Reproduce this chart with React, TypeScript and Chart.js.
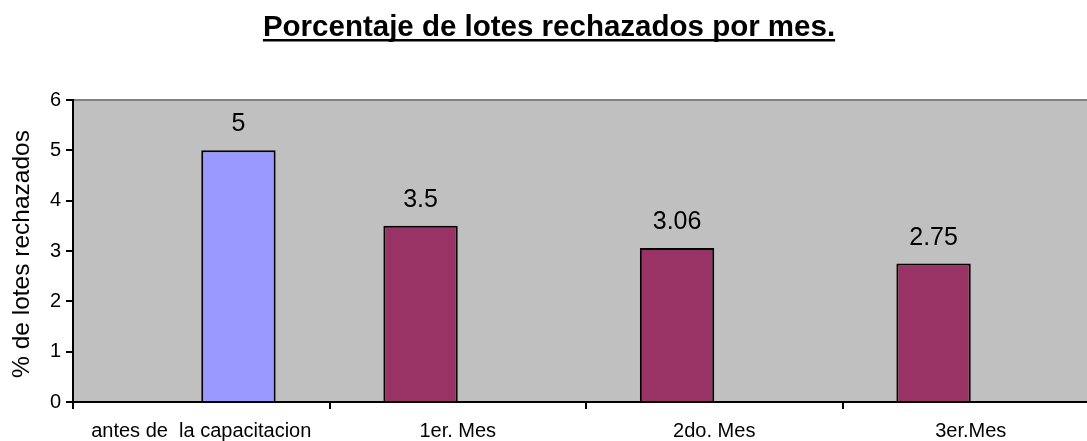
import React, { useEffect, useRef } from "react";
import { Chart, registerables } from "chart.js";

Chart.register(...registerables);

const TITLE = "Porcentaje de lotes rechazados por mes.";
const Y_TITLE = "% de lotes rechazados";
const categories = ["antes de  la capacitacion", "1er. Mes", "2do. Mes", "3er.Mes"];
const seriesMonths: (number | null)[] = [null, 3.5, 3.06, 2.75];
const seriesBefore: (number | null)[] = [5, null, null, null];
const yTicks = [0, 1, 2, 3, 4, 5, 6];

const FONT = "'Liberation Sans', Arial, sans-serif";

const decorPlugin = {
  id: "decor",
  beforeDraw(chart: any) {
    const { ctx, chartArea } = chart;
    ctx.save();
    ctx.fillStyle = "#C0C0C0";
    ctx.fillRect(chartArea.left, chartArea.top, chartArea.right - chartArea.left, chartArea.bottom - chartArea.top);
    ctx.strokeStyle = "#808080";
    ctx.lineWidth = 2;
    ctx.beginPath();
    ctx.moveTo(chartArea.left, chartArea.top);
    ctx.lineTo(chartArea.right, chartArea.top);
    ctx.lineTo(chartArea.right, chartArea.bottom);
    ctx.stroke();
    ctx.restore();
  },
  afterDraw(chart: any) {
    const { ctx, chartArea } = chart;
    ctx.save();
    // title
    ctx.font = `bold 29.5px ${FONT}`;
    ctx.fillStyle = "#000";
    ctx.textAlign = "center";
    ctx.textBaseline = "alphabetic";
    const cx = 549;
    ctx.fillText(TITLE, cx, 36);
    const w = ctx.measureText(TITLE).width;
    ctx.fillRect(cx - w / 2, 39, w, 2.5);
    // y title
    ctx.font = `24.5px ${FONT}`;
    ctx.translate(22, (chartArea.top + chartArea.bottom) / 2 + 3);
    ctx.rotate(-Math.PI / 2);
    ctx.textBaseline = "middle";
    ctx.fillText(Y_TITLE, 0, 0);
    ctx.restore();
    // data labels
    ctx.save();
    ctx.font = `25px ${FONT}`;
    ctx.fillStyle = "#000";
    ctx.textAlign = "center";
    ctx.textBaseline = "alphabetic";
    chart.data.datasets.forEach((ds: any, i: number) => {
      const meta = chart.getDatasetMeta(i);
      meta.data.forEach((bar: any, j: number) => {
        const v = ds.data[j];
        if (v === null || v === undefined) return;
        ctx.fillText(String(v), bar.x, bar.y - 19);
      });
    });
    ctx.restore();
  },
};

export default function App() {
  const ref = useRef<HTMLCanvasElement>(null);
  useEffect(() => {
    if (!ref.current) return;
    const chart = new Chart(ref.current, {
      type: "bar",
      data: {
        labels: categories,
        datasets: [
          {
            label: "Meses",
            data: seriesMonths,
            backgroundColor: "#993366",
            borderColor: "#000",
            borderWidth: 2,
            categoryPercentage: 0.58,
            barPercentage: 1,
          },
          {
            label: "Antes",
            data: seriesBefore,
            backgroundColor: "#9999FF",
            borderColor: "#000",
            borderWidth: 2,
            categoryPercentage: 0.58,
            barPercentage: 1,
          },
        ],
      },
      options: {
        responsive: false,
        animation: false,
        devicePixelRatio: 1,
        layout: { padding: { top: 100, right: 1, left: 0, bottom: 0 } },
        plugins: { legend: { display: false }, title: { display: false }, tooltip: { enabled: false } },
        scales: {
          x: {
            offset: true,
            grid: { offset: true, drawOnChartArea: false, color: "#000", lineWidth: 2, tickLength: 7 },
            border: { color: "#000", width: 2 },
            ticks: { color: "#000", font: { family: FONT, size: 20 }, padding: 10, maxRotation: 0 },
            afterFit: (s: any) => { s.height = 39; },
          },
          y: {
            min: 0,
            max: 6,
            afterBuildTicks: (s: any) => { s.ticks = yTicks.map((v) => ({ value: v })); },
            grid: { drawOnChartArea: false, color: "#000", lineWidth: 2, tickLength: 7 },
            border: { color: "#000", width: 2 },
            ticks: { color: "#000", font: { family: FONT, size: 20 }, padding: 5 },
            afterFit: (s: any) => { s.width = 73; },
          },
        },
      },
      plugins: [decorPlugin],
    });
    return () => chart.destroy();
  }, []);
  return (
    <div style={{ position: "fixed", left: 0, top: 0, width: 1087, height: 441, overflow: "hidden", background: "#fff" }}>
      <canvas ref={ref} width={1100} height={441} style={{ width: 1100, height: 441, display: "block" }} />
    </div>
  );
}
